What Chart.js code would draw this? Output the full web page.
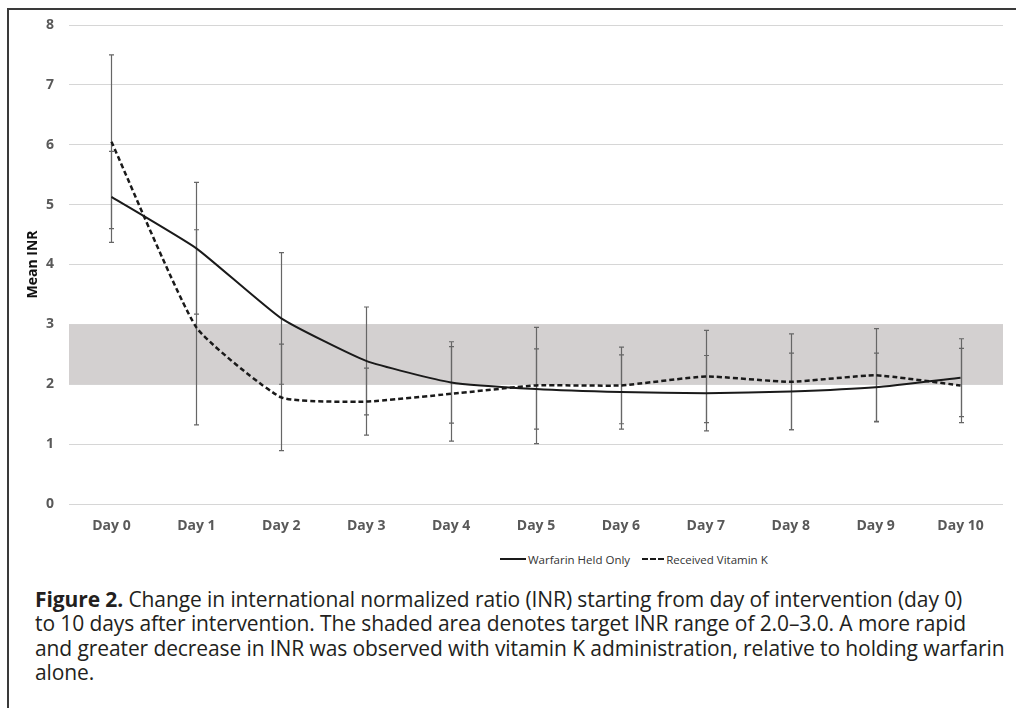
<!DOCTYPE html>
<html>
<head>
<meta charset="utf-8">
<script src="https://cdn.jsdelivr.net/npm/chart.js@4.4.1/dist/chart.umd.min.js"></script>
<style>
  html, body { margin: 0; padding: 0; background: #fff; }
  body { width: 1016px; height: 708px; position: relative; overflow: hidden; font-family: "Open Sans", sans-serif; }
  #frame { position: absolute; left: 7px; top: 8px; width: 1100px; height: 800px; border-left: 2px solid #3a3a3a; border-top: 2px solid #3a3a3a; }
  #wrap { position: absolute; left: 0; top: 0; width: 1016px; height: 545px; }
  #legend { position: absolute; left: 500px; top: 550px; height: 18px; display: flex; align-items: center; font-size: 11.5px; color: #333; }
  #legend .item { display: flex; align-items: center; margin-right: 12px; }
  #legend .sw { height: 0; margin-right: 2px; }
  #legend .solid { width: 26px; border-top: 2px solid #1a1a1a; }
  #legend .dash { width: 22px; border-top: 2px dashed #1a1a1a; }
  #caption { position: absolute; left: 35px; top: 587px; font-size: 21px; line-height: 24.3px; color: #231f20; white-space: nowrap; letter-spacing: -0.1px; }
  #caption b { font-weight: 700; }
</style>
</head>
<body>
<div id="frame"></div>
<div id="wrap"><canvas id="c"></canvas></div>
<div id="legend">
  <div class="item"><span class="sw solid"></span>Warfarin Held Only</div>
  <div class="item"><span class="sw dash"></span>Received Vitamin K</div>
</div>
<div id="caption"><b>Figure 2.</b> Change in international normalized ratio (INR) starting from day of intervention (day 0)<br>to 10 days after intervention. The shaded area denotes target INR range of 2.0–3.0. A more rapid<br>and greater decrease in INR was observed with vitamin K administration, relative to holding warfarin<br>alone.</div>
<script>
// values
var days = ["Day 0", "Day 1", "Day 2", "Day 3", "Day 4", "Day 5", "Day 6", "Day 7", "Day 8", "Day 9", "Day 10"];
var warfarinHeld = [5.13, 4.27, 3.10, 2.39, 2.03, 1.92, 1.87, 1.85, 1.88, 1.95, 2.11];
var warfarinErr = [0.76, 1.10, 1.10, 0.90, 0.68, 0.67, 0.62, 0.63, 0.64, 0.57, 0.65];
var vitaminK = [6.05, 2.95, 1.78, 1.71, 1.84, 1.98, 1.98, 2.13, 2.04, 2.15, 1.98];
var vitaminKErr = [1.45, 1.63, 0.89, 0.56, 0.79, 0.97, 0.64, 0.77, 0.80, 0.78, 0.62];
var targetRange = [2, 3];
var yTicks = [0, 1, 2, 3, 4, 5, 6, 7, 8];

var errMap = [warfarinErr, vitaminKErr];

// shaded target band + error bars
var extras = {
  id: "extras",
  beforeDatasetsDraw: function (chart) {
    var ctx = chart.ctx, a = chart.chartArea, y = chart.scales.y, x = chart.scales.x;
    ctx.save();
    var top = y.getPixelForValue(targetRange[1]);
    var bot = y.getPixelForValue(targetRange[0]);
    ctx.fillStyle = "#d3d0d0";
    ctx.fillRect(a.left, top, a.right - a.left, bot - top);

    ctx.strokeStyle = "#666";
    ctx.lineWidth = 1.2;
    chart.data.datasets.forEach(function (ds, di) {
      var err = errMap[di];
      ds.data.forEach(function (v, i) {
        var px = Math.round(x.getPixelForValue(i)) + 0.5;
        var hi = y.getPixelForValue(v + err[i]);
        var lo = y.getPixelForValue(v - err[i]);
        ctx.beginPath();
        ctx.moveTo(px, hi); ctx.lineTo(px, lo);
        ctx.moveTo(px - 2.5, hi); ctx.lineTo(px + 2.5, hi);
        ctx.moveTo(px - 2.5, lo); ctx.lineTo(px + 2.5, lo);
        ctx.stroke();
      });
    });
    ctx.restore();
  }
};

new Chart(document.getElementById("c"), {
  type: "line",
  data: {
    labels: days,
    datasets: [
      {
        label: "Warfarin Held Only",
        data: warfarinHeld,
        borderColor: "#1a1a1a",
        borderWidth: 2,
        pointRadius: 0,
        tension: 0.15,
        fill: false
      },
      {
        label: "Received Vitamin K",
        data: vitaminK,
        borderColor: "#1a1a1a",
        borderWidth: 2.5,
        borderDash: [5, 3],
        pointRadius: 0,
        tension: 0.15,
        fill: false
      }
    ]
  },
  options: {
    responsive: true,
    maintainAspectRatio: false,
    animation: false,
    layout: { padding: { left: 21, right: 13, top: 25, bottom: 0 } },
    plugins: { legend: { display: false }, tooltip: { enabled: false } },
    scales: {
      x: {
        offset: true,
        grid: { display: false, drawTicks: false },
        border: { display: false },
        ticks: {
          autoSkip: false, maxRotation: 0, padding: 14,
          color: "#595959",
          font: { family: "Open Sans", size: 14, weight: "bold" }
        },
        afterFit: function (s) { s.height = 41; }
      },
      y: {
        min: 0, max: 8,
        afterBuildTicks: function (s) { s.ticks = yTicks.map(function (v) { return { value: v }; }); },
        grid: { color: "#d6d6d6", lineWidth: 1, drawTicks: false },
        border: { display: false },
        ticks: {
          padding: 15,
          color: "#595959",
          font: { family: "Open Sans", size: 14, weight: "bold" }
        },
        title: {
          display: true, text: "Mean INR", color: "#111",
          padding: { top: 4, bottom: 4 },
          font: { family: "Open Sans", size: 14, weight: "bold" }
        },
        afterFit: function (s) { s.width = 48; }
      }
    }
  },
  plugins: [extras]
});
</script>
</body>
</html>
